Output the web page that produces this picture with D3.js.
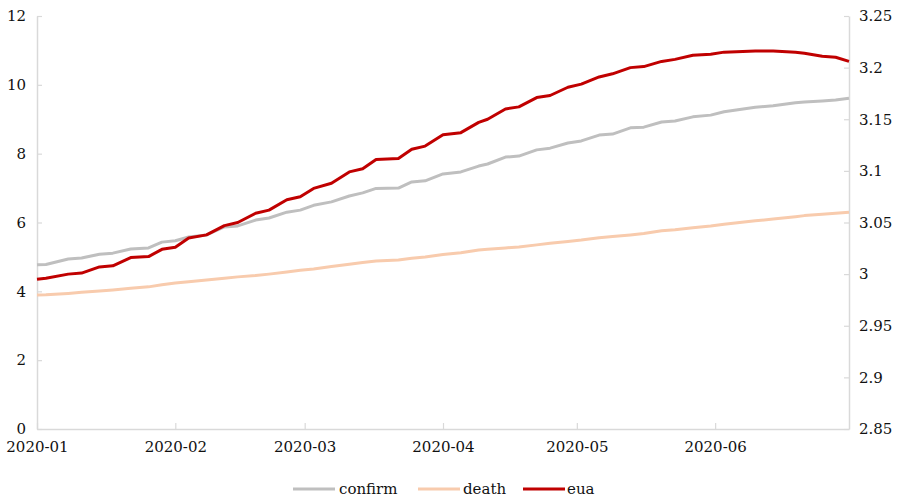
<!DOCTYPE html>
<html>
<head>
<meta charset="utf-8">
<script src="https://cdn.jsdelivr.net/npm/d3@7/dist/d3.min.js"></script>
<style>
  html, body { margin: 0; padding: 0; background: #fff; }
  svg { display: block; }
</style>
</head>
<body>
<svg id="chart" width="900" height="501"></svg>
<script>
// Observation dates (shared by all three series)
const dates = [
  "2020-01-01","2020-01-03","2020-01-08","2020-01-11","2020-01-15","2020-01-18","2020-01-22","2020-01-26",
  "2020-01-29","2020-02-01","2020-02-04","2020-02-08","2020-02-12","2020-02-15","2020-02-19","2020-02-22",
  "2020-02-26","2020-02-29","2020-03-03","2020-03-07","2020-03-11","2020-03-14","2020-03-17","2020-03-22",
  "2020-03-25","2020-03-28","2020-04-01","2020-04-05","2020-04-09","2020-04-11","2020-04-15","2020-04-18",
  "2020-04-22","2020-04-25","2020-04-29","2020-05-02","2020-05-06","2020-05-09","2020-05-13","2020-05-16",
  "2020-05-20","2020-05-23","2020-05-27","2020-05-31","2020-06-03","2020-06-10","2020-06-14","2020-06-19",
  "2020-06-21","2020-06-25","2020-06-28","2020-07-01"
];

// Left axis series
const confirm = [
  4.77,4.78,4.94,4.97,5.08,5.11,5.23,5.26,
  5.43,5.47,5.58,5.64,5.87,5.90,6.07,6.13,
  6.30,6.36,6.50,6.60,6.77,6.86,6.99,7.00,
  7.18,7.21,7.41,7.47,7.64,7.70,7.90,7.93,
  8.11,8.16,8.31,8.37,8.54,8.57,8.75,8.77,
  8.92,8.95,9.07,9.12,9.22,9.35,9.39,9.48,
  9.50,9.53,9.56,9.61
];
const death = [
  3.89,3.90,3.94,3.97,4.01,4.04,4.09,4.13,
  4.19,4.24,4.28,4.33,4.38,4.42,4.46,4.50,
  4.56,4.61,4.65,4.72,4.79,4.84,4.88,4.91,
  4.96,5.00,5.07,5.12,5.20,5.22,5.26,5.29,
  5.35,5.40,5.45,5.49,5.56,5.59,5.64,5.68,
  5.76,5.79,5.85,5.90,5.95,6.05,6.10,6.17,
  6.20,6.24,6.27,6.30
];
// Right axis series
const eua = [
  2.995,2.996,3.000,3.001,3.007,3.008,3.016,3.017,
  3.024,3.026,3.035,3.038,3.047,3.050,3.059,3.062,
  3.072,3.075,3.083,3.088,3.099,3.102,3.111,3.112,
  3.121,3.124,3.135,3.137,3.147,3.150,3.160,3.162,
  3.171,3.173,3.181,3.184,3.191,3.194,3.200,3.201,
  3.206,3.208,3.212,3.213,3.215,3.216,3.216,3.215,
  3.214,3.211,3.210,3.206
];

const leftTicks = [0, 2, 4, 6, 8, 10, 12];
const rightTicks = [2.85, 2.9, 2.95, 3, 3.05, 3.1, 3.15, 3.2, 3.25];
const monthTicks = ["2020-01","2020-02","2020-03","2020-04","2020-05","2020-06"];

const seriesInfo = [
  { name: "confirm", values: confirm, axis: "left",  color: "#BFBFBF" },
  { name: "death",   values: death,   axis: "left",  color: "#F8CBAD" },
  { name: "eua",     values: eua,     axis: "right", color: "#C00000" }
];

const FONT = "DejaVu Serif";
const FONT_SIZE = 15;
const parseDay = d3.timeParse("%Y-%m-%d");
const parseMonth = d3.timeParse("%Y-%m");
const svg = d3.select("#chart");

const plot = { left: 37, right: 849, top: 16, bottom: 429 };
const x = d3.scaleTime()
  .domain([parseDay("2020-01-01"), parseDay("2020-07-01")])
  .range([plot.left, plot.right]);
const yL = d3.scaleLinear().domain([0, 12]).range([plot.bottom, plot.top]);
const yR = d3.scaleLinear().domain([2.85, 3.25]).range([plot.bottom, plot.top]);

const axisColor = "#D9D9D9";
const textColor = "#111111";

function styleAxis(g) {
  g.attr("font-family", FONT).attr("font-size", FONT_SIZE);
  g.select(".domain").attr("stroke", axisColor).attr("stroke-width", 1.5);
  g.selectAll(".tick line").attr("stroke", axisColor).attr("stroke-width", 1.2);
  g.selectAll(".tick text").attr("fill", textColor);
}

// Left axis, ticks pointing into the plot
svg.append("g")
  .attr("transform", `translate(${plot.left},0)`)
  .call(d3.axisLeft(yL).tickValues(leftTicks).tickSize(-5).tickSizeOuter(0).tickPadding(11)
    .tickFormat(d3.format("d")))
  .call(styleAxis);

// Right axis
svg.append("g")
  .attr("transform", `translate(${plot.right},0)`)
  .call(d3.axisRight(yR).tickValues(rightTicks).tickSize(-5).tickSizeOuter(0).tickPadding(10)
    .tickFormat(d => String(+d.toFixed(2))))
  .call(styleAxis);

// Month axis
svg.append("g")
  .attr("transform", `translate(0,${plot.bottom})`)
  .call(d3.axisBottom(x).tickValues(monthTicks.map(parseMonth)).tickSize(-6).tickSizeOuter(0)
    .tickPadding(12).tickFormat(d3.timeFormat("%Y-%m")))
  .call(styleAxis);

// Series lines
const parsed = dates.map(parseDay);
seriesInfo.forEach(s => {
  const yScale = s.axis === "left" ? yL : yR;
  const line = d3.line()
    .x((d, i) => x(parsed[i]))
    .y(d => yScale(d));
  svg.append("path")
    .datum(s.values)
    .attr("fill", "none")
    .attr("stroke", s.color)
    .attr("stroke-width", 3)
    .attr("stroke-linejoin", "round")
    .attr("d", line);
});

// Legend
const legendItems = [
  { x: 293, textX: 339 },
  { x: 418, textX: 463 },
  { x: 523, textX: 567 }
];
const legend = svg.append("g").attr("font-family", FONT).attr("font-size", FONT_SIZE);
seriesInfo.forEach((s, i) => {
  const it = legendItems[i];
  legend.append("line")
    .attr("x1", it.x).attr("x2", it.x + 42)
    .attr("y1", 489).attr("y2", 489)
    .attr("stroke", s.color).attr("stroke-width", 3);
  legend.append("text")
    .attr("x", it.textX).attr("y", 494)
    .attr("fill", textColor)
    .text(s.name);
});
</script>
</body>
</html>
